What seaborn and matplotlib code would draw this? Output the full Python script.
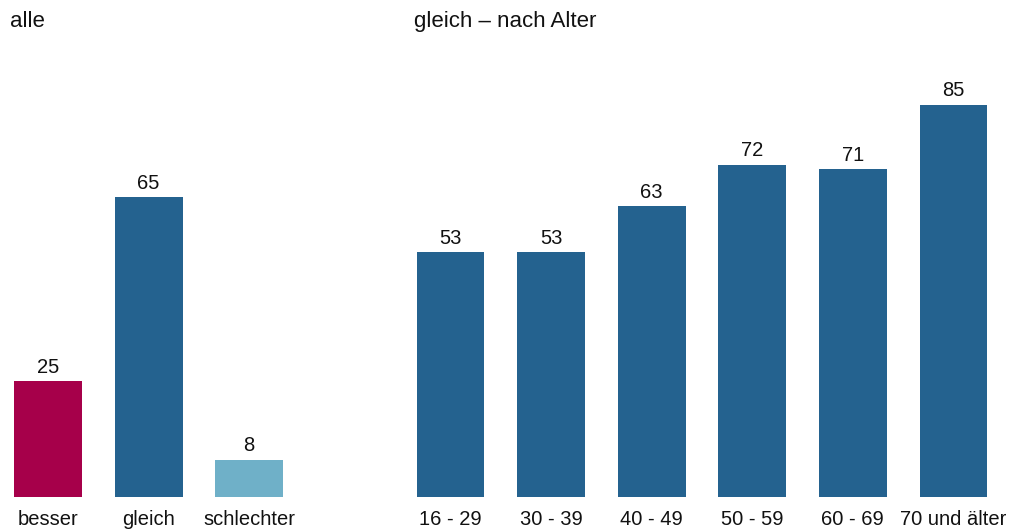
import matplotlib
matplotlib.use("Agg")
import matplotlib.pyplot as plt
import seaborn as sns
import pandas as pd

# Data
all_categories = ["besser", "gleich", "schlechter"]
all_values = [25, 65, 8]
all_colors = ["#A6004A", "#24628F", "#6FB0C8"]

age_categories = ["16 - 29", "30 - 39", "40 - 49", "50 - 59", "60 - 69", "70 und älter"]
age_values = [53, 53, 63, 72, 71, 85]
age_color = "#24628F"

titles = ["alle", "gleich – nach Alter"]

sns.set_theme(style="white")
plt.rcParams["font.family"] = ["Liberation Sans", "DejaVu Sans"]
FS = 14.5
TFS = 16

W, H = 1019, 529
fig = plt.figure(figsize=(W / 100, H / 100), dpi=100)

base_px = 496.5
px_per_unit = 4.61
ymax = 100
ax_h = ymax * px_per_unit
spacing = 100.6
bw = 0.675

def make_axes(left_px, n):
    x0 = -0.5 + (1 - bw) / 2
    x1 = n - 1 + 0.5 - (1 - bw) / 2
    width_px = (x1 - x0) * spacing
    ax = fig.add_axes([left_px / W, (H - base_px) / H, width_px / W, ax_h / H])
    return ax, x0, x1

df_all = pd.DataFrame({"cat": all_categories, "val": all_values})
df_age = pd.DataFrame({"cat": age_categories, "val": age_values})

ax1, a0, a1 = make_axes(14, len(all_categories))
sns.barplot(data=df_all, x="cat", y="val", hue="cat", palette=all_colors,
            legend=False, width=bw, ax=ax1, saturation=1, linewidth=0)
ax1.set_xlim(a0, a1)

ax2, b0, b1 = make_axes(416.5, len(age_categories))
sns.barplot(data=df_age, x="cat", y="val", color=age_color,
            width=bw, ax=ax2, saturation=1, linewidth=0)
ax2.set_xlim(b0, b1)

for ax in (ax1, ax2):
    ax.set_ylim(0, ymax)
    ax.set_xlabel("")
    ax.set_ylabel("")
    ax.set_yticks([])
    for s in ax.spines.values():
        s.set_visible(False)
    ax.tick_params(axis="x", length=0, pad=9.5, labelsize=FS, labelcolor="#111111")
    for c in ax.containers:
        ax.bar_label(c, fmt="%d", padding=3, fontsize=FS, color="#111111")
    ax.patch.set_alpha(0)

fig.text(10 / W, 1 - 27 / H, titles[0], fontsize=TFS, va="baseline", ha="left", color="#111111")
fig.text(414 / W, 1 - 27 / H, titles[1], fontsize=TFS, va="baseline", ha="left", color="#111111")

fig.savefig("out.png", dpi=100, facecolor="white")
